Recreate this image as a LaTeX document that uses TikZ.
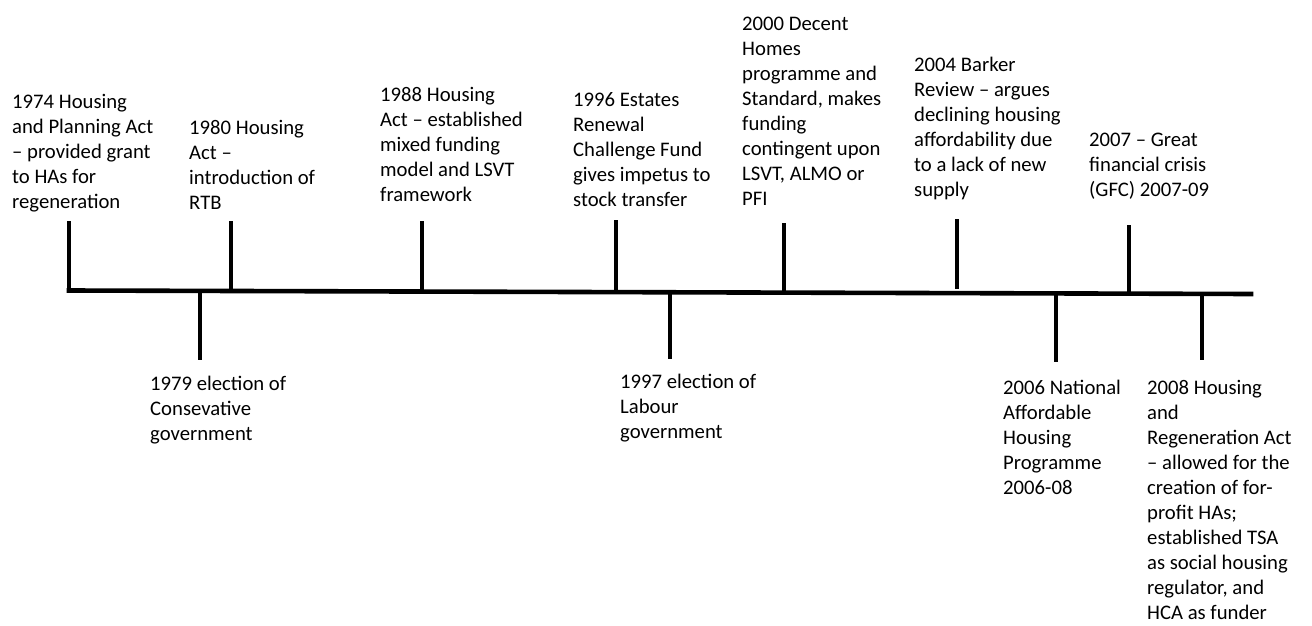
\documentclass[tikz,border=0pt]{standalone}
\usepackage{fontspec}
\setmainfont{Carlito}
\begin{document}
\begin{tikzpicture}[x=1pt,y=-1pt,
  bar/.style={line width=4.6pt,line cap=rect},
  evlabel/.style={anchor=base west,align=left,inner sep=0pt,font=\fontsize{20.7}{25}\selectfont}]
\useasboundingbox[fill=white] (0,0) rectangle (1312,626);
% main axis
\coordinate (axL) at (69,290.5);
\coordinate (axR) at (1251,294);
\draw[bar] (axL) -- (axR);
% upward ticks
\coordinate (u74) at (69,223);
\coordinate (u80a) at (231,223); \coordinate (u80b) at (231,291);
\coordinate (u88a) at (422,223); \coordinate (u88b) at (422,291);
\coordinate (u96a) at (616,222); \coordinate (u96b) at (616,292);
\coordinate (u00a) at (784,225); \coordinate (u00b) at (784,292);
\coordinate (u04a) at (957,221); \coordinate (u04b) at (957,287);
\coordinate (u07a) at (1129,227); \coordinate (u07b) at (1129,293);
\draw[bar] (u74) -- (axL);
\draw[bar] (u80a) -- (u80b);
\draw[bar] (u88a) -- (u88b);
\draw[bar] (u96a) -- (u96b);
\draw[bar] (u00a) -- (u00b);
\draw[bar] (u04a) -- (u04b);
\draw[bar] (u07a) -- (u07b);
% downward ticks
\coordinate (d79a) at (200,291); \coordinate (d79b) at (200,358);
\coordinate (d97a) at (670,292); \coordinate (d97b) at (670,357);
\coordinate (d06a) at (1056,293); \coordinate (d06b) at (1056,360);
\coordinate (d08a) at (1202,294); \coordinate (d08b) at (1202,358);
\draw[bar] (d79a) -- (d79b);
\draw[bar] (d97a) -- (d97b);
\draw[bar] (d06a) -- (d06b);
\draw[bar] (d08a) -- (d08b);
% labels above (base anchor = baseline of last line)
\node[evlabel] (l74) at (12,208) {1974 Housing\\and Planning Act\\– provided grant\\to HAs for\\regeneration};
\node[evlabel] (l80) at (189,209) {1980 Housing\\Act –\\introduction of\\RTB};
\node[evlabel] (l88) at (380,201) {1988 Housing\\Act – established\\mixed funding\\model and LSVT\\framework};
\node[evlabel] (l96) at (573,206) {1996 Estates\\Renewal\\Challenge Fund\\gives impetus to\\stock transfer};
\node[evlabel] (l00) at (742,205) {2000 Decent\\Homes\\programme and\\Standard, makes\\funding\\contingent upon\\LSVT, ALMO or\\PFI};
\node[evlabel] (l04) at (914,196) {2004 Barker\\Review – argues\\declining housing\\affordability due\\to a lack of new\\supply};
\node[evlabel] (l07) at (1089,196) {2007 – Great\\financial crisis\\(GFC) 2007-09};
% labels below
\node[evlabel] (l79) at (150,440) {1979 election of\\Consevative\\government};
\node[evlabel] (l97) at (620,438) {1997 election of\\Labour\\government};
\node[evlabel] (l06) at (1003,494) {2006 National\\Affordable\\Housing\\Programme\\2006-08};
\node[evlabel] (l08) at (1147,619) {2008 Housing\\and\\Regeneration Act\\– allowed for the\\creation of for-\\profit HAs;\\established TSA\\as social housing\\regulator, and\\HCA as funder};
\end{tikzpicture}
\end{document}
